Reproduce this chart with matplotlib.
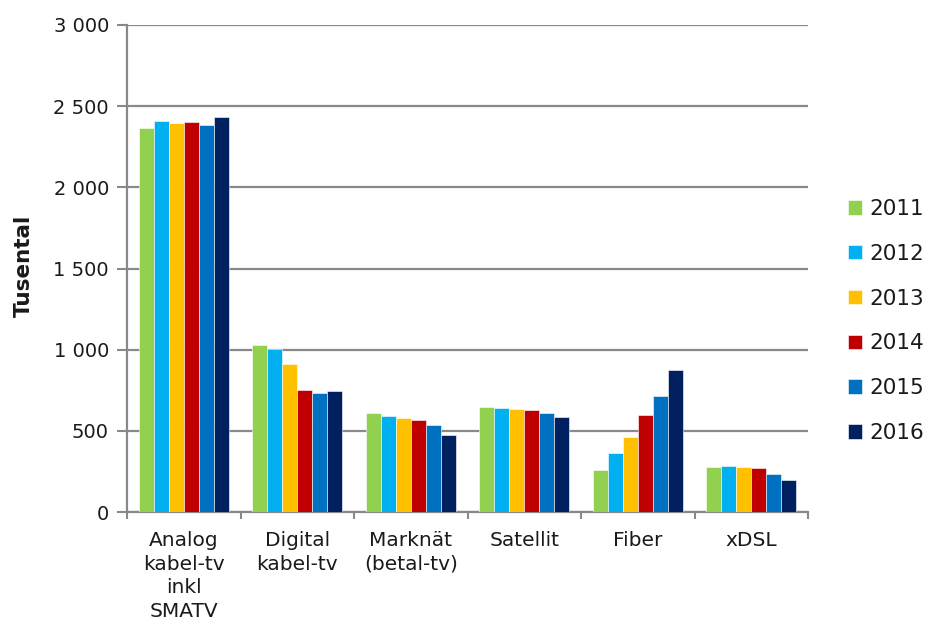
import matplotlib.pyplot as plt
import numpy as np

categories = ['Analog\nkabel-tv\ninkl\nSMATV', 'Digital\nkabel-tv', 'Marknät\n(betal-tv)',
              'Satellit', 'Fiber', 'xDSL']
years = ['2011', '2012', '2013', '2014', '2015', '2016']
v2011 = [2367, 1029, 608, 649, 261, 279]
v2012 = [2408, 1002, 593, 642, 365, 283]
v2013 = [2396, 913, 579, 636, 464, 277]
v2014 = [2402, 751, 567, 628, 596, 273]
v2015 = [2386, 735, 538, 608, 713, 236]
v2016 = [2431, 745, 474, 583, 875, 195]
yticks = [0, 500, 1000, 1500, 2000, 2500, 3000]
ytick_labels = ['0', '500', '1 000', '1 500', '2 000', '2 500', '3 000']

series = [v2011, v2012, v2013, v2014, v2015, v2016]
colors = ['#92D050', '#00B0F0', '#FFC000', '#C00000', '#0070C0', '#002060']
grid_c = '#898989'
txt_c = '#1a1a1a'

fig = plt.figure(figsize=(9.33, 6.27), dpi=100)
ax = fig.add_axes([127/933, 1 - 512/627, (808-127)/933, (512-25)/627])

x = np.arange(len(categories))
w = 0.132
for i, (vals, c, yr) in enumerate(zip(series, colors, years)):
    ax.bar(x + (i - 2.5) * w, vals, width=w, color=c, label=yr, zorder=3,
           edgecolor='white', linewidth=0.4)

ax.set_xlim(-0.5, len(categories) - 0.5)
ax.set_ylim(0, 3000)
ax.set_yticks(yticks)
ax.set_yticklabels(ytick_labels, fontsize=14, color=txt_c)
ax.set_xticks(x)
ax.set_xticklabels(categories, fontsize=14.5, linespacing=1.3, va='top', color=txt_c)
ax.set_xticks(np.arange(len(categories) + 1) - 0.5, minor=True)
ax.tick_params(axis='x', which='major', length=0, pad=14)
ax.tick_params(axis='x', which='minor', length=5, width=1.5, color=grid_c)
ax.tick_params(axis='y', length=7, width=1.5, color=grid_c, pad=6)

ax.grid(axis='y', color=grid_c, linewidth=1.6, zorder=0)
for s in ['top', 'right']:
    ax.spines[s].set_visible(False)
for s in ['left', 'bottom']:
    ax.spines[s].set_color(grid_c)
    ax.spines[s].set_linewidth(1.6)

fig.text(24/933, 1 - 266/627, 'Tusental', rotation=90, fontsize=15.5,
         fontweight='bold', ha='center', va='center', color=txt_c)

ax.legend(loc='center left', bbox_to_anchor=(848/933, 1 - 321/627),
          bbox_transform=fig.transFigure, frameon=False, fontsize=15.5,
          handlelength=0.65, handleheight=0.65, handletextpad=0.35, labelspacing=1.15,
          borderaxespad=0, borderpad=0)
for t in ax.get_legend().get_texts():
    t.set_color(txt_c)

fig.savefig('out.png', dpi=100)
